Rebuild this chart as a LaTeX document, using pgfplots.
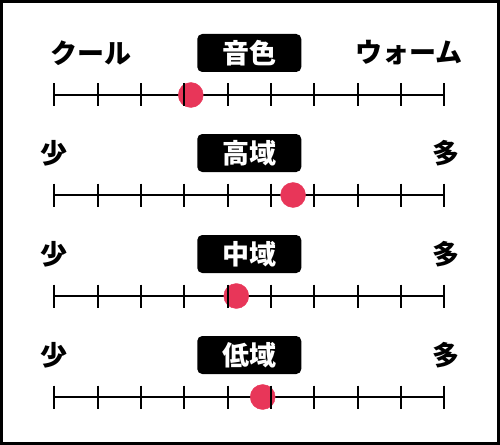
\documentclass[border=0pt]{standalone}
\usepackage{fontspec}
\setmainfont{Noto Sans CJK JP}
\usepackage{pgfplots}
\pgfplotsset{compat=1.18}
\definecolor{dotred}{RGB}{232,54,89}
\newcommand{\jp}{\fontsize{27bp}{32bp}\selectfont\bfseries}
\tikzset{
  title box/.style={fill=black, rounded corners=5bp, minimum width=104bp,
    minimum height=38bp, text=white, inner sep=0pt, font=\jp},
  side/.style={inner sep=0pt, font=\jp},
}

% one scale: rule, marker, ticks (ticks sit on top of the marker)
\newcommand{\scalerow}[2]{%
  \addplot[black, line width=2.2bp] coordinates {(0,#1) (9,#1)};
  \addplot[dotred, only marks, mark=*, mark size=12.5bp,
    mark options={fill=dotred, draw=none}] coordinates {(#2,#1)};
  \addplot[black, only marks, mark=|, mark size=11.5bp,
    mark options={line width=2.2bp, black}] coordinates {
    (0,#1) (1,#1) (2,#1) (3,#1) (4,#1) (5,#1) (6,#1) (7,#1) (8,#1) (9,#1)};
}

\begin{document}
\begin{tikzpicture}
\begin{axis}[
  scale only axis,
  width=497bp, height=442bp,
  xmin=-1.2186, xmax=10.2516,
  ymin=1.5, ymax=443.5, y dir=reverse,
  xtick=\empty, ytick=\empty,
  axis line style={line width=3bp, black},
  clip=false,
]
  \scalerow{95}{3.15}
  \scalerow{195}{5.51}
  \scalerow{296}{4.20}
  \scalerow{397}{4.81}

  \node[title box] at (axis cs:4.5,53) {音色};
  \node[side, anchor=west] at (axis cs:-0.099,53) {クール};
  \node[side, anchor=east] at (axis cs:9.43,53) {ウォーム};

  \node[title box] at (axis cs:4.5,153) {高域};
  \node[side] at (axis cs:0,153.5) {少};
  \node[side] at (axis cs:9.04,153.5) {多};

  \node[title box] at (axis cs:4.5,254) {中域};
  \node[side] at (axis cs:0,254.5) {少};
  \node[side] at (axis cs:9.04,254.5) {多};

  \node[title box] at (axis cs:4.5,355) {低域};
  \node[side] at (axis cs:0,355.5) {少};
  \node[side] at (axis cs:9.04,355.5) {多};
\end{axis}
\end{tikzpicture}
\end{document}
